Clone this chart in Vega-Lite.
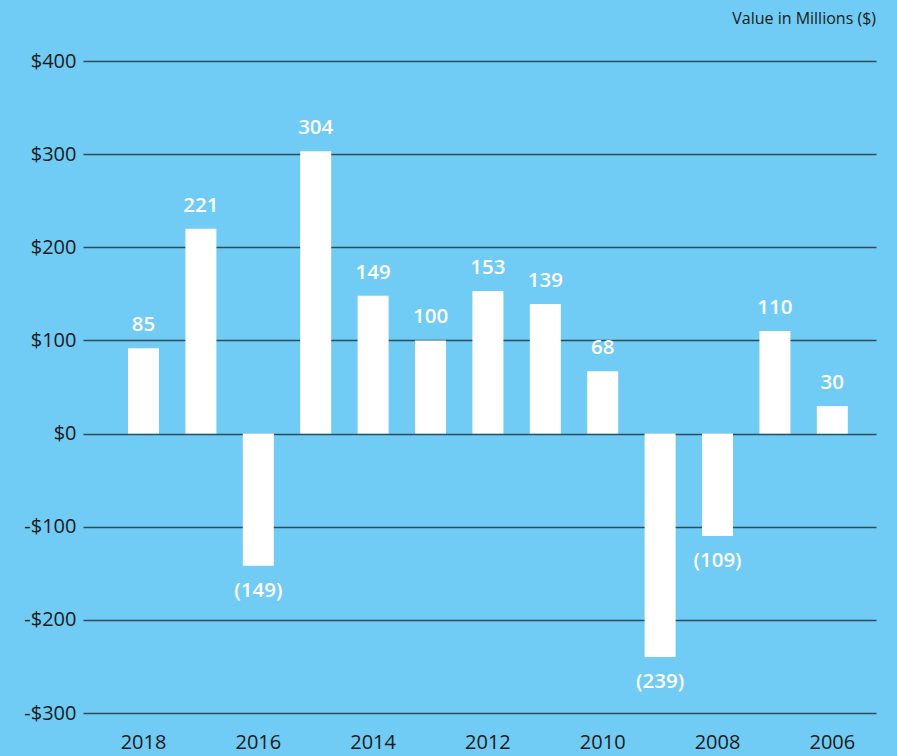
{
  "$schema": "https://vega.github.io/schema/vega-lite/v6.json",
  "autosize": {"type": "none"},
  "width": 793,
  "height": 652,
  "padding": {"left": 83, "top": 61, "right": 21, "bottom": 43},
  "background": "#70CCF4",
  "title": {
    "text": "Value in Millions ($)",
    "anchor": "end",
    "frame": "group",
    "orient": "top",
    "offset": 24,
    "font": "Open Sans",
    "fontSize": 16,
    "fontWeight": "normal",
    "color": "#1a1a1a"
  },
  "config": {
    "view": {"stroke": null},
    "font": "Open Sans"
  },
  "data": {
    "values": [
      {"year": 2018, "value": 91.5, "label": "85"},
      {"year": 2017, "value": 220, "label": "221"},
      {"year": 2016, "value": -142, "label": "(149)"},
      {"year": 2015, "value": 303, "label": "304"},
      {"year": 2014, "value": 148, "label": "149"},
      {"year": 2013, "value": 100, "label": "100"},
      {"year": 2012, "value": 153, "label": "153"},
      {"year": 2011, "value": 139, "label": "139"},
      {"year": 2010, "value": 67, "label": "68"},
      {"year": 2007, "value": -240, "label": "(239)"},
      {"year": 2008, "value": -110, "label": "(109)"},
      {"year": 2009, "value": 110, "label": "110"},
      {"year": 2006, "value": 29.5, "label": "30"}
    ]
  },
  "encoding": {
    "x": {
      "field": "year",
      "type": "ordinal",
      "sort": [2018, 2017, 2016, 2015, 2014, 2013, 2012, 2011, 2010, 2007, 2008, 2009, 2006],
      "scale": {"paddingInner": 0.46, "paddingOuter": 0.6376, "align": 0.615, "round": false},
      "axis": {
        "title": null,
        "values": [2018, 2016, 2014, 2012, 2010, 2008, 2006],
        "labelAngle": 0,
        "domain": false,
        "ticks": false,
        "labelFont": "Open Sans",
        "labelFontSize": 20,
        "labelColor": "#1a1a1a",
        "labelPadding": 19
      }
    },
    "y": {
      "field": "value",
      "type": "quantitative",
      "scale": {"domain": [-300, 400], "nice": false},
      "axis": {
        "title": null,
        "values": [-300, -200, -100, 0, 100, 200, 300, 400],
        "labelExpr": "datum.value < 0 ? '-$' + abs(datum.value) : '$' + datum.value",
        "domain": false,
        "ticks": false,
        "grid": true,
        "gridColor": "#24404e",
        "gridWidth": 1.5,
        "gridOpacity": 0.9,
        "labelFont": "Open Sans",
        "labelFontSize": 20,
        "labelColor": "#1a1a1a",
        "labelPadding": 7
      }
    }
  },
  "layer": [
    {"mark": {"type": "bar", "color": "#ffffff"}},
    {
      "transform": [{"filter": "datum.value >= 0"}],
      "mark": {"type": "text", "color": "#ffffff", "fontSize": 20.5, "fontWeight": 600, "baseline": "middle", "dy": -23},
      "encoding": {"text": {"field": "label"}}
    },
    {
      "transform": [{"filter": "datum.value < 0"}],
      "mark": {"type": "text", "color": "#ffffff", "fontSize": 20.5, "fontWeight": 600, "baseline": "middle", "dy": 25},
      "encoding": {"text": {"field": "label"}}
    }
  ]
}
